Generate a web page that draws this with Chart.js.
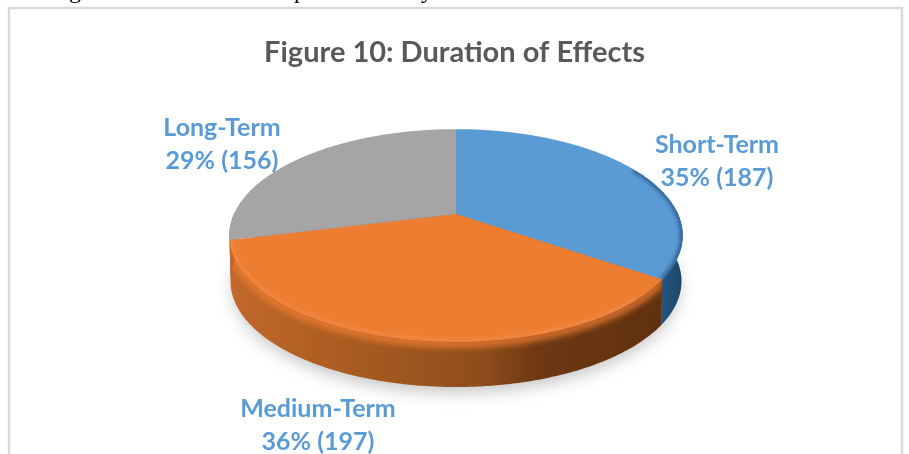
<!DOCTYPE html>
<html>
<head>
<meta charset="utf-8">
<title>Figure 10: Duration of Effects</title>
<script src="https://cdn.jsdelivr.net/npm/chart.js@4"></script>
<style>
    html, body { margin: 0; padding: 0; background: #fff; overflow: hidden; }
    #wrap { position: relative; width: 909px; height: 454px; }
</style>
</head>
<body>
<div id="wrap"><canvas id="chart" width="909" height="454"></canvas></div>
<script>
    var categories = ['Short-Term', 'Medium-Term', 'Long-Term'];
    var counts = [187, 197, 156];
    var percents = [35, 36, 29];
    var sliceColors = ['#5b9bd5', '#ed7d31', '#a5a5a5'];
    var titleText = 'Figure 10: Duration of Effects';

    // centre of each data label, px
    var labelSpots = [[717, 161], [318, 425], [222, 144]];

    // tails of the page text cut off above the chart
    var pageLetters = ['g', 'p', 'y'];
    var pageLetterX = [75, 300, 427];

    // how the flat pie is tilted: far side shrinks, near side grows
    var tilt = { cx: 456, cy: 214, rx: 222, ry: 102, persp: 0.202, depth: 46 };

    function project(angle, r, drop) {
        // angle is Chart.js arc angle, -PI/2 is twelve o'clock
        var s = Math.cos(angle) * r;
        var c = -Math.sin(angle) * r;
        var w = 1 + tilt.persp * c;
        return [tilt.cx + tilt.rx * s / w, tilt.cy - tilt.ry * c / w + (drop || 0)];
    }

    function traceEdge(ctx, from, to, r, drop, moveFirst) {
        var steps = Math.max(2, Math.ceil(Math.abs(to - from) / 0.01));
        for (var i = 0; i <= steps; i++) {
            var p = project(from + (to - from) * i / steps, r, drop);
            if (i === 0 && moveFirst) {
                ctx.moveTo(p[0], p[1]);
            } else {
                ctx.lineTo(p[0], p[1]);
            }
        }
    }

    function sideGradient(ctx, index) {
        var g = ctx.createLinearGradient(232, 0, 684, 0);
        if (index === 0) {
            g.addColorStop(0, '#24557f');
            g.addColorStop(0.95, '#24557f');
            g.addColorStop(1, '#1d4568');
        } else {
            g.addColorStop(0, '#c2682a');
            g.addColorStop(0.3, '#a55a20');
            g.addColorStop(0.55, '#8f4d1b');
            g.addColorStop(0.68, '#6d3812');
            g.addColorStop(1, '#5f300f');
        }
        return g;
    }

    function sidePath(ctx, from, to) {
        ctx.beginPath();
        traceEdge(ctx, from, to, 1, 0, true);
        traceEdge(ctx, to, from, 0.995, tilt.depth, false);
        ctx.closePath();
    }

    function drawSide(ctx, arc, index) {
        // only the near half of the rim can be seen
        var from = Math.max(arc.startAngle, -0.02);
        var to = Math.min(arc.endAngle, Math.PI + 0.02);
        if (to <= from) {
            return;
        }
        sidePath(ctx, from, to);
        ctx.fillStyle = sideGradient(ctx, index);
        ctx.fill();

        // rounded lip: the top of the side catches the face colour
        if (index === 1) {
            ctx.save();
            ctx.clip();
            ctx.filter = 'blur(3px)';
            ctx.beginPath();
            traceEdge(ctx, from, to, 1, 2, true);
            ctx.strokeStyle = 'rgba(237,125,49,0.85)';
            ctx.lineWidth = 8;
            ctx.stroke();
            ctx.restore();
        }
    }

    function drawFace(ctx, arc, color, index) {
        var apex = project(0, 0);
        ctx.beginPath();
        ctx.moveTo(apex[0], apex[1]);
        traceEdge(ctx, arc.startAngle, arc.endAngle, 1, 0, false);
        ctx.closePath();
        ctx.fillStyle = color;
        ctx.fill();

        if (index > 1) {
            return;
        }
        // shading just inside the near edge of the face
        ctx.save();
        ctx.clip();
        ctx.filter = 'blur(2px)';
        ctx.beginPath();
        if (index === 0) {
            traceEdge(ctx, -0.5, arc.endAngle, 1, 0, true);
            ctx.strokeStyle = 'rgba(30,75,120,0.8)';
            ctx.lineWidth = 5;
        } else {
            traceEdge(ctx, arc.startAngle + 0.2, Math.PI, 1, -1, true);
            ctx.strokeStyle = 'rgba(252,150,85,0.7)';
            ctx.lineWidth = 3;
        }
        ctx.stroke();
        ctx.restore();
    }

    var tiltedPie = {
        id: 'tiltedPie',
        beforeDatasetsDraw: function (chart) {
            var ctx = chart.ctx;
            var arcs = chart.getDatasetMeta(0).data;
            ctx.save();

            // soft shadow under the disc
            ctx.save();
            ctx.shadowColor = 'rgba(110,110,110,0.4)';
            ctx.shadowBlur = 16;
            ctx.shadowOffsetY = 7;
            ctx.fillStyle = '#888';
            ctx.beginPath();
            traceEdge(ctx, 0, Math.PI * 2, 0.985, tilt.depth, true);
            ctx.closePath();
            ctx.fill();
            ctx.restore();

            arcs.forEach(function (arc, i) {
                var a = arc.getProps(['startAngle', 'endAngle'], true);
                // Chart.js starts at -PI/2 so angles run -PI/2 .. 3PI/2
                drawSide(ctx, a, i);
            });
            arcs.forEach(function (arc, i) {
                var a = arc.getProps(['startAngle', 'endAngle'], true);
                drawFace(ctx, a, sliceColors[i], i);
            });
            ctx.restore();
            return false;
        },
        afterDraw: function (chart) {
            var ctx = chart.ctx;
            ctx.save();
            // frame of the chart, open at the bottom where the page was cut
            ctx.strokeStyle = '#d9d9d9';
            ctx.lineWidth = 2.5;
            ctx.beginPath();
            ctx.moveTo(9, 454);
            ctx.lineTo(9, 8);
            ctx.lineTo(902, 8);
            ctx.lineTo(902, 454);
            ctx.stroke();

            ctx.fillStyle = '#000';
            ctx.font = '24px "Liberation Serif"';
            ctx.textAlign = 'center';
            ctx.textBaseline = 'alphabetic';
            pageLetters.forEach(function (letter, i) {
                ctx.fillText(letter, pageLetterX[i], -2);
            });

            ctx.fillStyle = '#5b9bd5';
            ctx.font = 'bold 25px Lato';
            ctx.textBaseline = 'middle';
            categories.forEach(function (name, i) {
                var spot = labelSpots[i];
                ctx.fillText(name, spot[0], spot[1] - 16);
                ctx.fillText(percents[i] + '% (' + counts[i] + ')', spot[0], spot[1] + 17);
            });
            ctx.restore();
        }
    };

    new Chart(document.getElementById('chart'), {
        type: 'pie',
        data: {
            labels: categories,
            datasets: [{ data: counts, backgroundColor: sliceColors, borderWidth: 0 }]
        },
        options: {
            responsive: false,
            animation: false,
            layout: { padding: { top: 35 } },
            plugins: {
                legend: { display: false },
                tooltip: { enabled: false },
                title: {
                    display: true,
                    text: titleText,
                    color: '#595959',
                    font: { family: 'Lato', size: 29, weight: 'bold' },
                    padding: 0
                }
            }
        },
        plugins: [tiltedPie]
    });
</script>
</body>
</html>
